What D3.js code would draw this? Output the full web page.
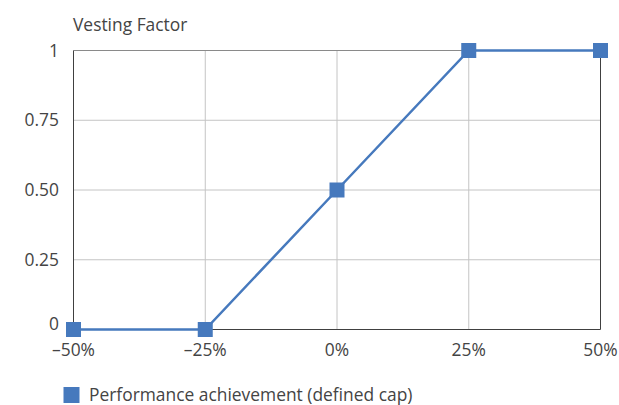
<!DOCTYPE html>
<html><head><meta charset="utf-8">
<script src="https://cdn.jsdelivr.net/npm/d3@7"></script>
<style>
html,body{margin:0;padding:0;background:#fff;}
text{font-family:"Open Sans",sans-serif;fill:#444;}
</style></head>
<body><svg id="c" width="619" height="405"></svg>
<script>
const xValues = [-50, -25, 0, 25, 50];
const vesting = [0, 0, 0.5, 1, 1];
const xTicks = [-50, -25, 0, 25, 50];
const yTicks = [0, 0.25, 0.5, 0.75, 1];
const yTickLabels = ["0", "0.25", "0.50", "0.75", "1"];
const yTitle = "Vesting Factor";
const seriesName = "Performance achievement (defined cap)";

const svg = d3.select("#c");
const x = d3.scaleLinear().domain([-50, 50]).range([73.5, 600.5]);
const y = d3.scaleLinear().domain([0, 1]).range([329.5, 50.5]);
const color = "#4679BD";
const fs = 17.4;

// gridlines
svg.append("g").selectAll("line.v").data(xTicks.filter(d => d !== -50 && d !== 50)).join("line")
  .attr("x1", d => x(d)).attr("x2", d => x(d)).attr("y1", y(1)).attr("y2", y(0))
  .attr("stroke", "#c4c4c4").attr("stroke-width", 1);
svg.append("g").selectAll("line.h").data(yTicks.filter(d => d !== 0 && d !== 1)).join("line")
  .attr("x1", x(-50)).attr("x2", x(50)).attr("y1", d => y(d)).attr("y2", d => y(d))
  .attr("stroke", "#c4c4c4").attr("stroke-width", 1);
// frame
svg.append("line").attr("x1", x(-50)).attr("x2", x(50)).attr("y1", y(1)).attr("y2", y(1)).attr("stroke", "#8a8a8a");
svg.append("line").attr("x1", x(-50)).attr("x2", x(-50)).attr("y1", y(1)).attr("y2", y(0)).attr("stroke", "#404040");
svg.append("line").attr("x1", x(50)).attr("x2", x(50)).attr("y1", y(1)).attr("y2", y(0)).attr("stroke", "#404040");
svg.append("line").attr("x1", x(-50)).attr("x2", x(50)).attr("y1", y(0)).attr("y2", y(0)).attr("stroke", "#404040");

// y labels
svg.append("g").selectAll("text").data(yTicks).join("text")
  .attr("x", 59).attr("y", (d) => y(d) - (d === 0 ? 6 : 0))
  .attr("dy", "0.35em").attr("text-anchor", "end").attr("font-size", fs)
  .text((d, i) => yTickLabels[i]);
// x labels
svg.append("g").selectAll("text").data(xTicks).join("text")
  .attr("x", d => x(d)).attr("y", 350).attr("dy", "0.35em").attr("text-anchor", "middle").attr("font-size", fs)
  .text(d => (d < 0 ? "\u2013" + Math.abs(d) : d) + "%");
// title
svg.append("text").attr("x", 73).attr("y", 30.5).attr("font-size", fs).text(yTitle);

// line
const pts = xValues.map((v, i) => [v, vesting[i]]);
svg.append("path").datum(pts)
  .attr("d", d3.line().x(d => x(d[0])).y(d => y(d[1])))
  .attr("fill", "none").attr("stroke", color).attr("stroke-width", 2.5);
const ms = 15;
svg.append("g").selectAll("rect").data(pts).join("rect")
  .attr("x", d => x(d[0]) - ms / 2).attr("y", d => y(d[1]) - ms / 2)
  .attr("width", ms).attr("height", ms).attr("fill", color);

// legend
svg.append("rect").attr("x", 63.5).attr("y", 387).attr("width", 16).attr("height", 16).attr("fill", color);
svg.append("text").attr("x", 89).attr("y", 395).attr("dy", "0.35em").attr("font-size", fs).text(seriesName);
</script></body></html>
